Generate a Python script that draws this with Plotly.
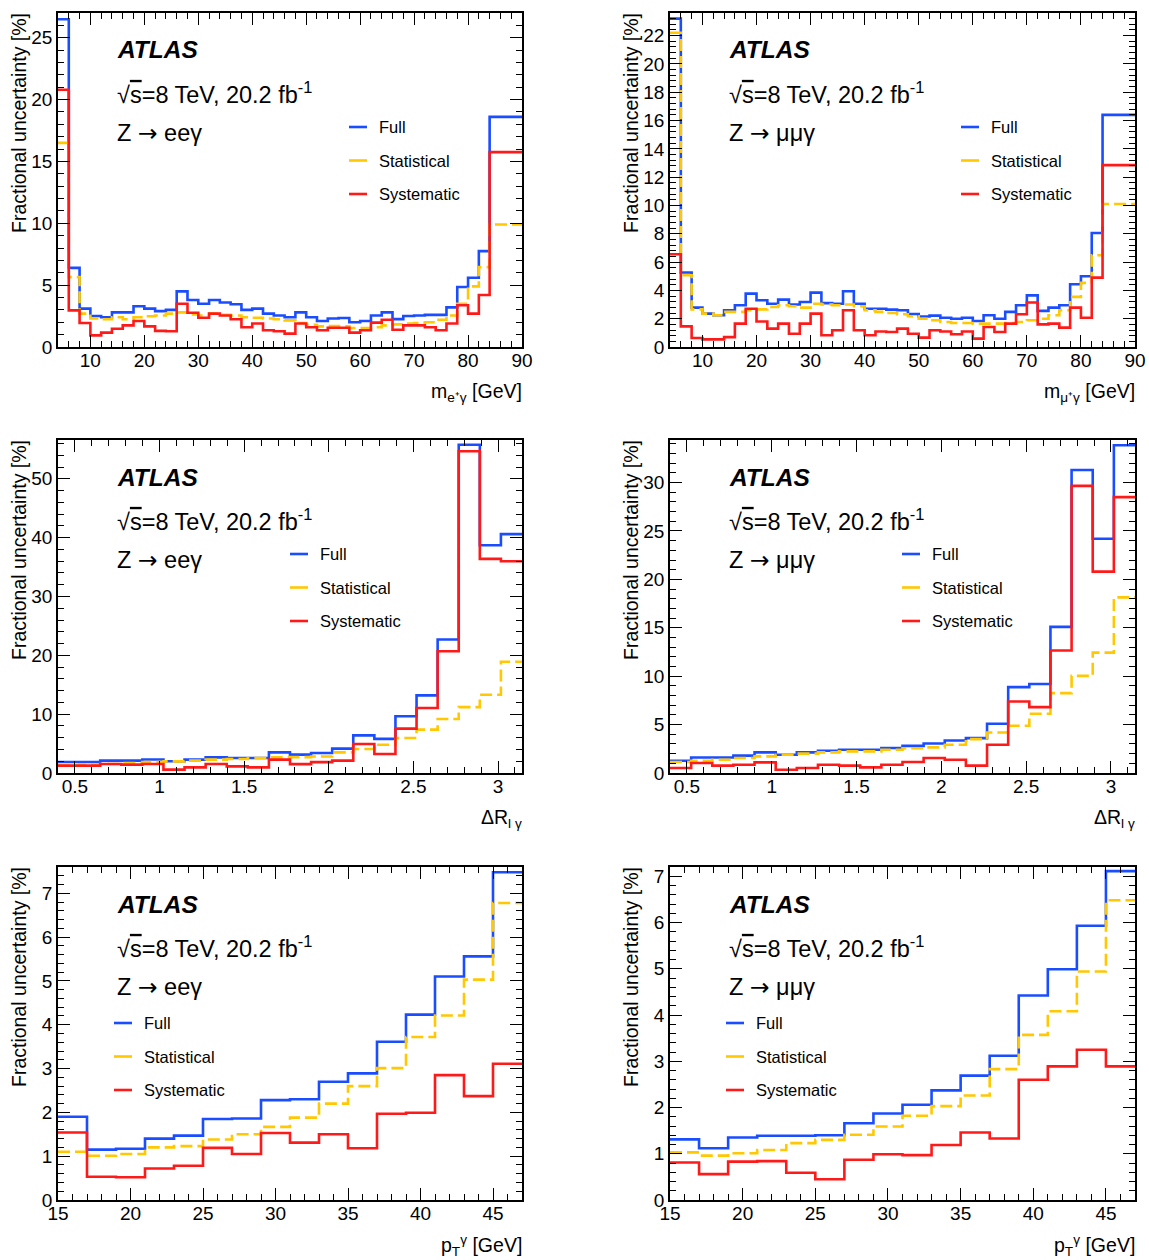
import math
import plotly.graph_objects as go

FONT = "Liberation Sans, Arial, Helvetica, sans-serif"
W, H = 1149, 1260
BLUE = "#1a4dff"
YELLOW = "#ffc800"
RED = "#ff1a1a"

# ---------------- bin edges ----------------
mass_edges = list(range(4, 86, 2)) + [90]
dr_edges = [0.4 + i * (math.pi - 0.4) / 22 for i in range(23)]
pt_edges = list(range(15, 49, 2))

# ---------------- Z -> ee gamma, m(e+ gamma) ----------------
full_ee_m = [26.5, 6.4, 3.1, 2.5, 2.4, 2.8, 2.8, 3.3, 3.1, 2.9, 3.0, 4.5, 3.8, 3.5, 3.8, 3.6, 3.45,
             3.0, 3.1, 2.7, 2.55, 2.4, 2.8, 2.4, 2.1, 2.3, 2.35, 2.0, 2.1, 2.55, 2.8, 2.25, 2.5,
             2.55, 2.6, 2.6, 3.2, 4.85, 5.6, 7.75, 18.6]
stat_ee_m = [16.5, 5.65, 2.7, 2.3, 2.24, 2.4, 2.24, 2.4, 2.48, 2.55, 2.7, 2.8, 2.64, 2.55, 2.7, 2.6,
             2.55, 2.4, 2.37, 2.3, 2.24, 2.15, 1.94, 1.8, 1.67, 1.7, 1.67, 1.53, 1.53, 1.6, 1.75,
             1.83, 1.9, 1.94, 2.0, 2.2, 2.55, 3.5, 4.9, 6.46, 9.9]
syst_ee_m = [20.8, 2.96, 1.94, 0.94, 1.16, 1.48, 1.75, 2.1, 1.67, 1.3, 1.27, 3.5, 2.77, 2.37, 2.7,
             2.55, 2.24, 1.6, 1.9, 1.35, 1.27, 1.08, 1.9, 1.6, 1.35, 1.56, 1.56, 1.16, 1.35, 1.97,
             2.2, 1.4, 1.75, 1.75, 1.6, 1.35, 1.9, 3.37, 2.7, 4.2, 15.75]

# ---------------- Z -> mumu gamma, m(mu+ gamma) ----------------
full_mm_m = [23.2, 5.26, 2.78, 2.36, 2.24, 2.6, 2.95, 3.77, 3.3, 3.06, 3.35, 3.0, 3.18, 3.84, 3.1,
             3.06, 3.94, 3.06, 2.7, 2.7, 2.64, 2.6, 2.33, 2.15, 2.22, 2.07, 2.0, 2.07, 1.84, 2.24,
             2.0, 2.48, 2.95, 3.65, 2.55, 2.78, 2.95, 4.43, 5.0, 8.06, 16.4]
stat_mm_m = [22.2, 5.07, 2.66, 2.36, 2.24, 2.48, 2.48, 2.6, 2.66, 2.83, 2.95, 2.88, 2.78, 3.06, 3.0,
             2.95, 3.0, 2.88, 2.6, 2.48, 2.4, 2.31, 2.17, 2.0, 1.89, 1.77, 1.7, 1.7, 1.65, 1.65,
             1.65, 1.7, 1.77, 1.89, 2.0, 2.24, 2.6, 3.54, 4.53, 6.48, 10.1]
syst_mm_m = [6.55, 1.46, 0.64, 0.54, 0.54, 0.7, 1.65, 2.7, 1.8, 1.3, 1.65, 0.94, 1.65, 2.36, 0.83,
             1.18, 2.6, 1.18, 0.83, 1.1, 1.06, 1.3, 0.94, 0.66, 1.18, 1.1, 0.9, 1.1, 0.59, 1.41,
             1.06, 1.65, 2.31, 3.14, 1.6, 1.65, 1.37, 2.78, 2.07, 4.9, 12.85]

# ---------------- Delta R(l gamma) ----------------
full_ee_dr = [1.87, 1.87, 2.1, 2.1, 2.3, 2.0, 2.27, 2.65, 2.55, 2.55, 3.5, 3.12, 3.4, 4.14, 6.4,
              5.8, 9.64, 13.2, 22.7, 55.8, 38.7, 40.6]
stat_ee_dr = [1.25, 1.42, 1.53, 1.7, 1.87, 1.98, 2.1, 2.27, 2.38, 2.55, 2.66, 2.7, 2.8, 3.5, 4.08,
              4.8, 5.95, 7.37, 9.18, 11.2, 13.3, 18.9]
syst_ee_dr = [1.25, 1.25, 1.53, 1.42, 1.53, 0.57, 0.96, 1.53, 1.13, 0.96, 2.27, 1.5, 1.85, 2.1,
              4.93, 3.23, 7.54, 11.05, 20.7, 54.7, 36.4, 36.0]

full_mm_dr = [1.27, 1.6, 1.6, 1.79, 2.13, 1.89, 2.13, 2.3, 2.4, 2.4, 2.58, 2.8, 3.05, 3.35, 3.6,
              5.09, 8.87, 9.2, 15.1, 31.3, 24.2, 33.85]
stat_mm_dr = [1.13, 1.27, 1.37, 1.55, 1.72, 1.89, 2.0, 2.13, 2.23, 2.23, 2.4, 2.55, 2.65, 2.92,
              3.5, 4.19, 4.88, 6.12, 8.25, 10.03, 12.44, 18.14]
syst_mm_dr = [0.52, 1.03, 0.76, 0.86, 1.1, 0.34, 0.52, 0.86, 0.76, 0.58, 0.86, 1.13, 1.55, 1.37,
              0.76, 2.92, 7.39, 6.8, 12.65, 29.66, 20.8, 28.5]

# ---------------- pT(gamma) ----------------
full_ee_pt = [1.9, 1.15, 1.17, 1.4, 1.47, 1.85, 1.86, 2.28, 2.3, 2.7, 2.89, 3.61, 4.23, 5.1, 5.56, 7.48]
stat_ee_pt = [1.1, 1.01, 1.05, 1.2, 1.23, 1.38, 1.5, 1.67, 1.88, 2.2, 2.6, 3.01, 3.72, 4.21, 5.03, 6.78]
syst_ee_pt = [1.54, 0.53, 0.52, 0.72, 0.78, 1.19, 1.05, 1.53, 1.31, 1.5, 1.18, 1.97, 1.99, 2.85, 2.37, 3.11]

full_mm_pt = [1.31, 1.12, 1.35, 1.39, 1.39, 1.4, 1.66, 1.87, 2.06, 2.37, 2.69, 3.12, 4.42, 4.99, 5.93, 7.11]
stat_mm_pt = [1.03, 0.96, 1.01, 1.08, 1.23, 1.3, 1.41, 1.59, 1.82, 2.03, 2.26, 2.83, 3.57, 4.08, 4.94, 6.48]
syst_mm_pt = [0.81, 0.56, 0.83, 0.84, 0.59, 0.45, 0.87, 0.99, 0.97, 1.19, 1.46, 1.33, 2.6, 2.89, 3.25, 2.89]

legend_names = ["Full", "Statistical", "Systematic"]
ARROW = "<span style='font-family:DejaVu Sans'>\u2192</span>"
channel_labels = {"ee": "Z " + ARROW + " ee\u03b3", "mm": "Z " + ARROW + " \u03bc\u03bc\u03b3"}
y_title = "Fractional uncertainty [%]"

# plot-area pixel boxes
COLS = [(58, 522), (670, 1135)]
ROWS = [(13, 347), (440, 773), (867, 1200)]

panels = [
    dict(edges=mass_edges, vals=(full_ee_m, stat_ee_m, syst_ee_m), xr=[4, 90], yr=[0, 27],
         xt=dict(tick0=0, dtick=10), xm=2, yt=5, ym=1, ch="ee", col=0, row=0,
         xtitle="m<sub>e\u207a\u03b3</sub> [GeV]", legx=291, legy=114),
    dict(edges=mass_edges, vals=(full_mm_m, stat_mm_m, syst_mm_m), xr=[4, 90], yr=[0, 23.6],
         xt=dict(tick0=0, dtick=10), xm=2, yt=2, ym=0.4, ch="mm", col=1, row=0,
         xtitle="m<sub>\u03bc\u207a\u03b3</sub> [GeV]", legx=291, legy=114),
    dict(edges=dr_edges, vals=(full_ee_dr, stat_ee_dr, syst_ee_dr), xr=[0.4, math.pi], yr=[0, 56.6],
         xt=dict(tick0=0, dtick=0.5), xm=0.1, yt=10, ym=2, ch="ee", col=0, row=1,
         xtitle="\u0394R<sub>l \u03b3</sub>", legx=232, legy=114),
    dict(edges=dr_edges, vals=(full_mm_dr, stat_mm_dr, syst_mm_dr), xr=[0.4, math.pi], yr=[0, 34.4],
         xt=dict(tick0=0, dtick=0.5), xm=0.1, yt=5, ym=1, ch="mm", col=1, row=1,
         xtitle="\u0394R<sub>l \u03b3</sub>", legx=232, legy=114),
    dict(edges=pt_edges, vals=(full_ee_pt, stat_ee_pt, syst_ee_pt), xr=[15, 47], yr=[0, 7.6],
         xt=dict(tick0=15, dtick=5), xm=1, yt=1, ym=0.2, ch="ee", col=0, row=2,
         xtitle="p<sub>T</sub><sup>\u03b3</sup> [GeV]", legx=56, legy=156),
    dict(edges=pt_edges, vals=(full_mm_pt, stat_mm_pt, syst_mm_pt), xr=[15, 47], yr=[0, 7.2],
         xt=dict(tick0=15, dtick=5), xm=1, yt=1, ym=0.2, ch="mm", col=1, row=2,
         xtitle="p<sub>T</sub><sup>\u03b3</sup> [GeV]", legx=56, legy=156),
]

styles = [(BLUE, "solid"), (YELLOW, "12px,5px"), (RED, "solid")]


def px(x):
    return x / W


def py(y):
    return 1 - y / H


fig = go.Figure()
annotations = []
shapes = []
layout_axes = {}

for k, p in enumerate(panels):
    sfx = "" if k == 0 else str(k + 1)
    x0, x1 = COLS[p["col"]]
    y0, y1 = ROWS[p["row"]]
    for name, vals, (color, dash) in zip(legend_names, p["vals"], styles):
        fig.add_trace(go.Scatter(
            x=p["edges"], y=list(vals) + [vals[-1]], mode="lines", name=name,
            line=dict(color=color, width=2.6, dash=dash, shape="hv"),
            xaxis="x" + sfx, yaxis="y" + sfx, showlegend=False, hoverinfo="skip"))

    common = dict(showline=True, linecolor="black", linewidth=1.5, mirror="ticks",
                  ticks="inside", ticklen=12, tickwidth=1.2, tickcolor="black",
                  showgrid=False, zeroline=False, automargin=False,
                  tickfont=dict(family=FONT, size=19, color="black"))
    layout_axes["xaxis" + sfx] = dict(
        common, domain=[px(x0), px(x1)], range=p["xr"], anchor="y" + sfx,
        tickmode="linear", ticklabelstandoff=-5, **p["xt"],
        minor=dict(ticks="inside", ticklen=6, tickwidth=1.2, tickcolor="black", dtick=p["xm"],
                   showgrid=False))
    layout_axes["yaxis" + sfx] = dict(
        common, domain=[py(y1), py(y0)], range=p["yr"], anchor="x" + sfx,
        tickmode="linear", tick0=0, dtick=p["yt"],
        minor=dict(ticks="inside", ticklen=6, tickwidth=1.2, tickcolor="black", dtick=p["ym"],
                   showgrid=False))

    # labels
    tx = x0 + 57
    annotations.append(dict(x=px(tx), y=py(y0 + 37), xref="paper", yref="paper",
                            text="<b><i>ATLAS</i></b>", showarrow=False, xanchor="left",
                            yanchor="middle", font=dict(family=FONT, size=24.5, color="black")))
    annotations.append(dict(x=px(tx), y=py(y0 + 80), xref="paper", yref="paper",
                            text="\u221a<span style='text-decoration:overline'>s</span>=8 TeV, 20.2 fb<sup>-1</sup>",
                            showarrow=False, xanchor="left", yanchor="middle",
                            font=dict(family=FONT, size=23.5, color="black")))
    annotations.append(dict(x=px(tx), y=py(y0 + 120), xref="paper", yref="paper",
                            text=channel_labels[p["ch"]], showarrow=False, xanchor="left",
                            yanchor="middle", font=dict(family=FONT, size=23.5, color="black")))
    # legend
    for j, (name, (color, dash)) in enumerate(zip(legend_names, styles)):
        ly = y0 + p["legy"] + j * 33.5
        shapes.append(dict(type="line", xref="paper", yref="paper",
                           x0=px(x0 + p["legx"]), x1=px(x0 + p["legx"] + 18),
                           y0=py(ly), y1=py(ly), line=dict(color=color, width=2.6)))
        annotations.append(dict(x=px(x0 + p["legx"] + 28), y=py(ly), xref="paper", yref="paper",
                                text=name, showarrow=False, xanchor="left", yanchor="middle",
                                font=dict(family=FONT, size=16.5, color="black")))
    # axis titles
    annotations.append(dict(x=px(x0 - 39), y=py(y0 - 2), xref="paper", yref="paper",
                            text=y_title, textangle=-90, showarrow=False, xanchor="center",
                            yanchor="top", font=dict(family=FONT, size=19.5, color="black")))
    annotations.append(dict(x=px(x1 + 2), y=py(y1 + 45), xref="paper", yref="paper",
                            text=p["xtitle"], showarrow=False, xanchor="right", yanchor="middle",
                            font=dict(family=FONT, size=19.5, color="black")))

fig.update_layout(
    width=W, height=H, margin=dict(l=0, r=0, t=0, b=0, autoexpand=False),
    paper_bgcolor="white", plot_bgcolor="white", showlegend=False,
    font=dict(family=FONT, color="black"),
    annotations=annotations, shapes=shapes, **layout_axes)

fig.write_html("out.html")
